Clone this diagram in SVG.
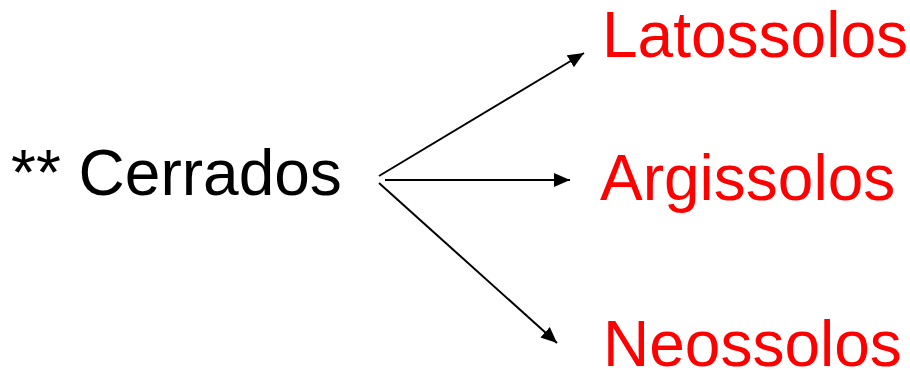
<svg xmlns="http://www.w3.org/2000/svg" width="910" height="370" viewBox="0 0 910 370">
  <style>
    .lbl { font-family: "Liberation Sans", Arial, sans-serif; font-size: 64px; }
    .src { fill: #000000; }
    .dst { fill: #ff0000; }
    .edge { stroke: #000000; stroke-width: 2; fill: none; }
  </style>
  <defs>
    <marker id="arrow" markerUnits="userSpaceOnUse" markerWidth="16" markerHeight="14" refX="16" refY="7" orient="auto">
      <path d="M0,0 L16,7 L0,14 Z" fill="#000000"/>
    </marker>
  </defs>
  <rect width="910" height="370" fill="#ffffff"/>

  <g id="cerrados">
    <text class="lbl src" x="11" y="195">** Cerrados</text>
  </g>
  <g id="latossolos">
    <text class="lbl dst" x="602" y="57">Latossolos</text>
  </g>
  <g id="argissolos">
    <text class="lbl dst" x="600" y="200">Argissolos</text>
  </g>
  <g id="neossolos">
    <text class="lbl dst" x="603" y="366">Neossolos</text>
  </g>

  <g id="connectors">
    <line class="edge" x1="379" y1="176" x2="584" y2="53" marker-end="url(#arrow)"/>
    <line class="edge" x1="385" y1="180" x2="570" y2="180" marker-end="url(#arrow)"/>
    <line class="edge" x1="379" y1="183" x2="557" y2="343" marker-end="url(#arrow)"/>
  </g>
</svg>
